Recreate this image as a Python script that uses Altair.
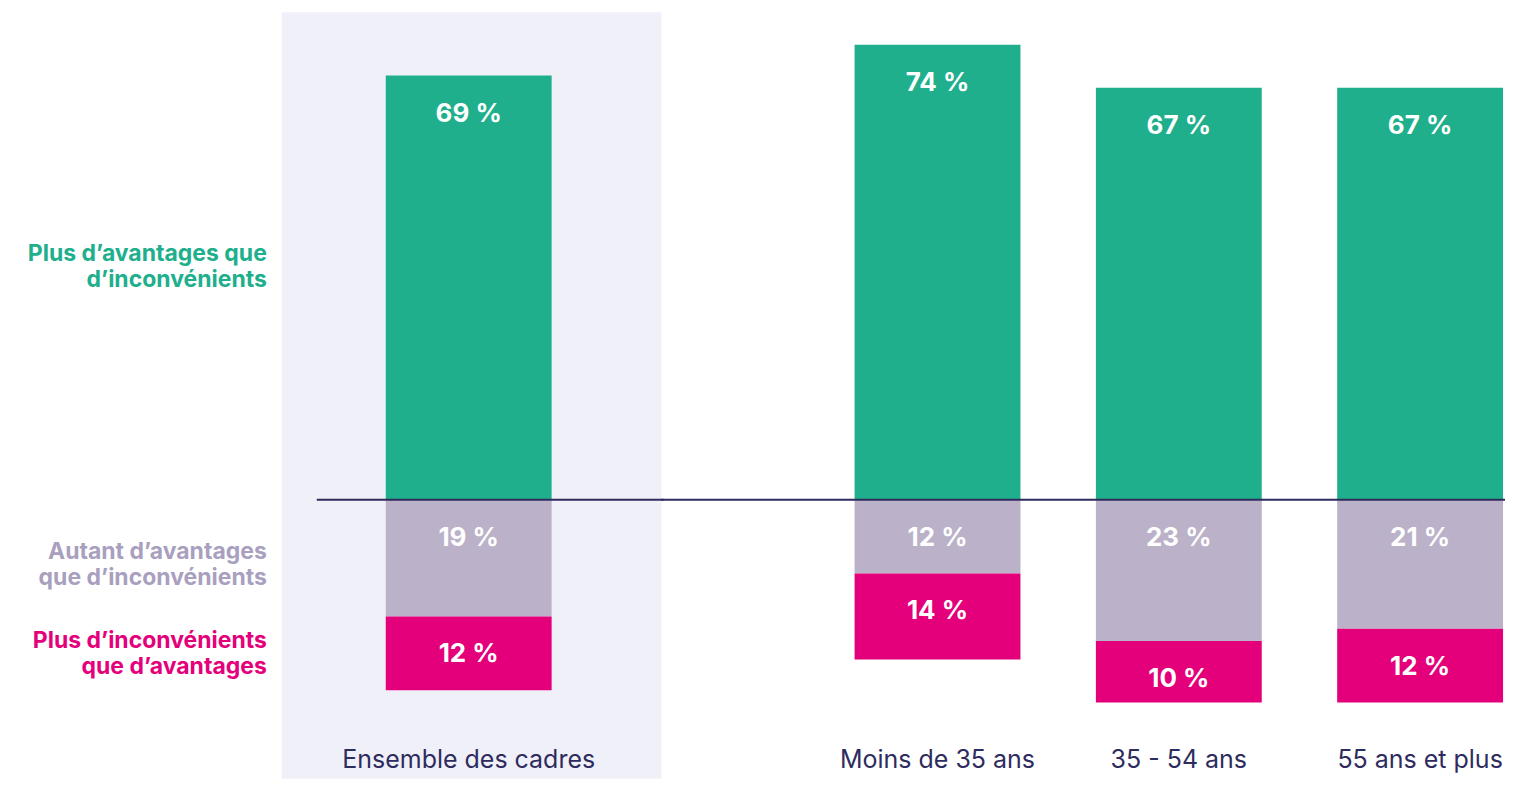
import altair as alt
import pandas as pd

categories = ["Ensemble des cadres", "Moins de 35 ans", "35 - 54 ans", "55 ans et plus"]
plus_avantages = [69, 74, 67, 67]
autant = [19, 12, 23, 21]
plus_inconvenients = [12, 14, 10, 12]

series_names = [
    "Plus d’avantages que d’inconvénients",
    "Autant d’avantages que d’inconvénients",
    "Plus d’inconvénients que d’avantages",
]
series_labels = [
    "Plus d’avantages que\nd’inconvénients",
    "Autant d’avantages\nque d’inconvénients",
    "Plus d’inconvénients\nque d’avantages",
]
bar_colors = ["#20AF8C", "#BBB1C8", "#E4007A"]
label_colors = ["#20AF8C", "#A99FBF", "#E4007A"]
label_dy = [-34, -6, -12]

NAVY = "#2E2B5E"
BG = "#F0F0F9"
FONT = "Inter"

rows = []
for c, a, m, i in zip(categories, plus_avantages, autant, plus_inconvenients):
    rows.append(dict(cat=c, serie=series_names[0], v=a, y0=0, y1=a, top=a))
    rows.append(dict(cat=c, serie=series_names[1], v=m, y0=0, y1=-m, top=0))
    rows.append(dict(cat=c, serie=series_names[2], v=i, y0=-m, y1=-m - i, top=-m))
df = pd.DataFrame(rows)
df["label"] = df["v"].astype(str) + " %"

H = 767
yscale = alt.Scale(domain=[-45.4, 79.3], nice=False, zero=False)
cscale = alt.Scale(domain=series_names, range=bar_colors)


def bar_panel(data, width, cats, xscale, rule_from=None, bg=None):
    base = alt.Chart(data).encode(
        x=alt.X("cat:N", sort=cats, scale=xscale, axis=None)
    )
    bars = base.mark_bar().encode(
        y=alt.Y("y0:Q", scale=yscale, axis=None),
        y2="y1:Q",
        color=alt.Color("serie:N", scale=cscale, legend=None),
    )
    vals = base.mark_text(
        dy=38, baseline="middle", align="center", font=FONT, fontSize=26,
        fontWeight="bold", color="white",
    ).encode(y=alt.Y("top:Q", scale=yscale, axis=None), text="label:N")
    cat_text = base.transform_filter(
        alt.datum.serie == series_names[0]
    ).mark_text(
        baseline="middle", align="center", font=FONT, fontSize=25, color=NAVY
    ).encode(y=alt.value(748), text="cat:N")
    rule_df = pd.DataFrame({"z": [0]})
    if rule_from is None:
        rule = alt.Chart(rule_df).mark_rule(color=NAVY, strokeWidth=2).encode(
            y=alt.Y("z:Q", scale=yscale, axis=None)
        )
    else:
        rule = alt.Chart(rule_df).mark_rule(color=NAVY, strokeWidth=2).encode(
            y=alt.Y("z:Q", scale=yscale, axis=None),
            x=alt.value(rule_from), x2=alt.value(width + 2),
        )
    layer = alt.layer(bars, vals, cat_text, rule).properties(width=width, height=H)
    if bg is not None:
        layer = layer.properties(view=alt.ViewBackground(fill=bg, stroke=None))
    return layer


# left labels panel
lab_rows = []
first = df[df["cat"] == categories[0]]
for k, s in enumerate(series_names):
    r = first[first["serie"] == s].iloc[0]
    lab_rows.append(dict(serie=s, text=series_labels[k], mid=(r["y0"] + r["y1"]) / 2))
lab_df = pd.DataFrame(lab_rows)

lab_layers = []
for k, s in enumerate(series_names):
    lab_layers.append(
        alt.Chart(lab_df).transform_filter(alt.datum.serie == s).mark_text(
            align="right", baseline="middle", font=FONT, fontSize=23,
            fontWeight="bold", color=label_colors[k], lineBreak="\n",
            lineHeight=26, dy=label_dy[k],
        ).encode(
            x=alt.value(259),
            y=alt.Y("mid:Q", scale=yscale, axis=None),
            text="text:N",
        )
    )
left = alt.layer(*lab_layers).properties(width=274, height=H)

panel_a = bar_panel(
    df[df["cat"] == categories[0]], 380, categories[:1],
    alt.Scale(paddingInner=0, paddingOuter=0.6446, align=0.486),
    rule_from=35, bg=BG,
)
panel_b = bar_panel(
    df[df["cat"] != categories[0]], 844, categories[1:],
    alt.Scale(paddingInner=0.3126, paddingOuter=0.404, align=0.99),
)

chart = alt.hconcat(left, panel_a, panel_b, spacing=0, bounds="flush").properties(
    padding={"left": 0, "top": 4, "right": 0, "bottom": 0}
).configure_view(stroke=None)

chart.save("out.html", embed_options={"renderer": "svg", "actions": False})
